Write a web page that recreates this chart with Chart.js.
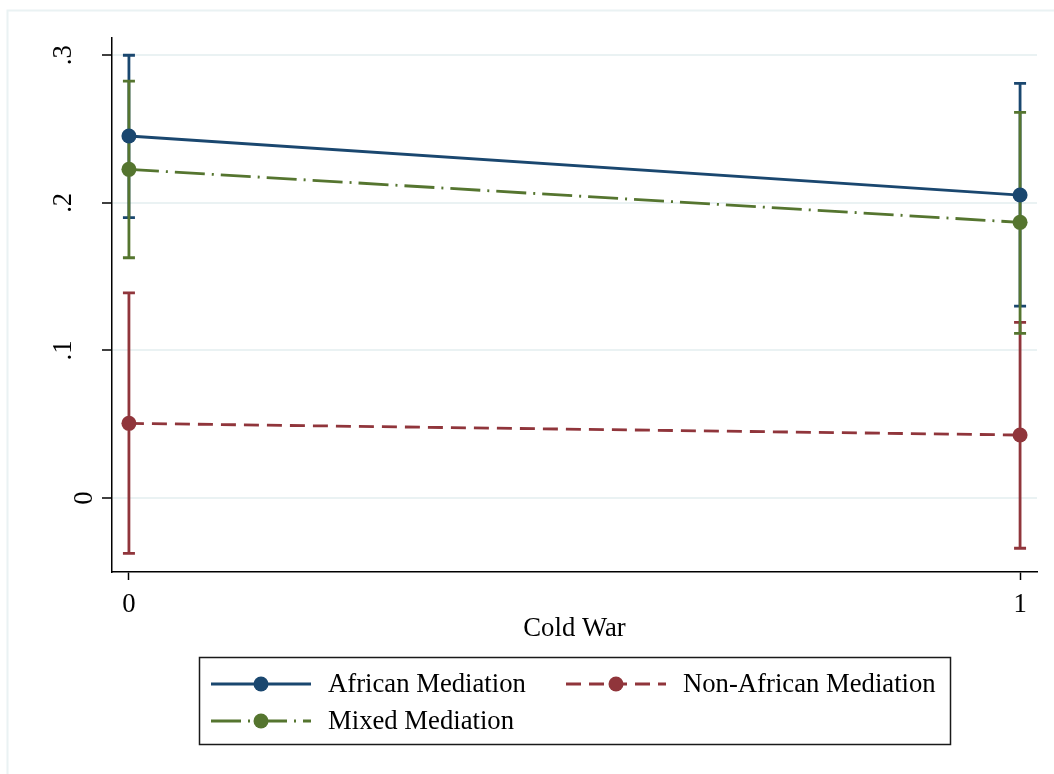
<!DOCTYPE html>
<html>
<head>
<meta charset="utf-8">
<script src="https://cdn.jsdelivr.net/npm/chart.js@4/dist/chart.umd.min.js"></script>
<style>
  html, body { margin: 0; padding: 0; background: #ffffff; }
  #wrap { width: 1054px; height: 774px; position: relative; }
  canvas { display: block; }
</style>
</head>
<body>
<div id="wrap"><canvas id="chart" width="1054" height="774"></canvas></div>
<script>
// Predictive margins by Cold War period and mediator type
const coldWar = [0, 1];
const xTickLabels = ['0', '1'];
const yTickValues = [0, 0.1, 0.2, 0.3];
const yTickLabels = ['0', '.1', '.2', '.3'];
const xTitle = 'Cold War';

const seriesNames = ['African Mediation', 'Non-African Mediation', 'Mixed Mediation'];

const africanMean = [0.2453, 0.2053];
const africanLow  = [0.190, 0.130];
const africanHigh = [0.300, 0.281];

const nonAfricanMean = [0.0506, 0.0427];
const nonAfricanLow  = [-0.0375, -0.034];
const nonAfricanHigh = [0.139, 0.119];

const mixedMean = [0.2227, 0.1868];
const mixedLow  = [0.1628, 0.1116];
const mixedHigh = [0.2825, 0.2613];

const NAVY = '#1a476f';
const MAROON = '#90353b';
const GREEN = '#55752f';
const GRID = '#eaf2f3';
const FONT = '"Liberation Serif", "Times New Roman", serif';
const FONT_SIZE = 26.7;
const LINE_W = 2.8;

const series = [
  { name: seriesNames[0], mean: africanMean, low: africanLow, high: africanHigh, color: NAVY, dash: [] },
  { name: seriesNames[1], mean: nonAfricanMean, low: nonAfricanLow, high: nonAfricanHigh, color: MAROON, dash: [15, 8] },
  { name: seriesNames[2], mean: mixedMean, low: mixedLow, high: mixedHigh, color: GREEN, dash: [30, 7, 2, 7] }
];

const toPoints = (vals) => coldWar.map((x, i) => ({ x: x, y: vals[i] }));

// Confidence intervals with caps, drawn under the lines
const ciPlugin = {
  id: 'ciBars',
  beforeDatasetsDraw(chart) {
    const { ctx, scales } = chart;
    const xs = scales.x, ys = scales.y;
    ctx.save();
    ctx.lineWidth = LINE_W;
    ctx.lineCap = 'butt';
    series.forEach(s => {
      ctx.strokeStyle = s.color;
      coldWar.forEach((xv, i) => {
        const px = xs.getPixelForValue(xv);
        const pLo = ys.getPixelForValue(s.low[i]);
        const pHi = ys.getPixelForValue(s.high[i]);
        ctx.beginPath();
        ctx.moveTo(px, pLo); ctx.lineTo(px, pHi);
        ctx.moveTo(px - 6, pLo); ctx.lineTo(px + 6, pLo);
        ctx.moveTo(px - 6, pHi); ctx.lineTo(px + 6, pHi);
        ctx.stroke();
      });
    });
    ctx.restore();
  }
};

// Frame, rotated y labels, axis title and the boxed legend
const decorPlugin = {
  id: 'decor',
  beforeDraw(chart) {
    const ctx = chart.ctx;
    ctx.save();
    ctx.fillStyle = '#ffffff';
    ctx.fillRect(0, 0, chart.width, chart.height);
    ctx.strokeStyle = GRID;
    ctx.lineWidth = 2;
    ctx.beginPath();
    ctx.moveTo(7.5, chart.height); ctx.lineTo(7.5, 10.5); ctx.lineTo(chart.width, 10.5);
    ctx.stroke();
    ctx.restore();
  },
  afterDraw(chart) {
    const { ctx, scales, chartArea } = chart;
    ctx.save();
    ctx.fillStyle = '#000000';
    ctx.font = FONT_SIZE + 'px ' + FONT;

    // y tick labels, reading upward
    yTickValues.forEach((v, i) => {
      const py = scales.y.getPixelForValue(v);
      const label = yTickLabels[i];
      const bx = label.startsWith('.') ? 70.5 : 92;
      ctx.save();
      ctx.translate(bx, py);
      ctx.rotate(-Math.PI / 2);
      ctx.textAlign = 'center';
      ctx.textBaseline = 'alphabetic';
      ctx.fillText(label, 0, 0);
      ctx.restore();
    });

    // x axis title
    ctx.textAlign = 'center';
    ctx.textBaseline = 'middle';
    ctx.fillText(xTitle, (chartArea.left + chartArea.right) / 2, 629);

    // legend box
    const box = { l: 199.5, t: 657.5, r: 950.5, b: 744.5 };
    ctx.strokeStyle = '#1a1a1a';
    ctx.lineWidth = 1.5;
    ctx.strokeRect(box.l, box.t, box.r - box.l, box.b - box.t);

    const slots = [
      { x: 211, y: 684 },
      { x: 566, y: 684 },
      { x: 211, y: 721 }
    ];
    series.forEach((s, i) => {
      const slot = slots[i];
      ctx.save();
      ctx.strokeStyle = s.color;
      ctx.lineWidth = LINE_W;
      ctx.setLineDash(s.dash);
      ctx.beginPath();
      ctx.moveTo(slot.x, slot.y);
      ctx.lineTo(slot.x + 100, slot.y);
      ctx.stroke();
      ctx.setLineDash([]);
      ctx.fillStyle = s.color;
      ctx.beginPath();
      ctx.arc(slot.x + 50, slot.y, 7.5, 0, Math.PI * 2);
      ctx.fill();
      ctx.restore();
      ctx.textAlign = 'left';
      ctx.textBaseline = 'middle';
      ctx.fillStyle = '#000000';
      ctx.fillText(s.name, slot.x + 117, slot.y + 1);
    });
    ctx.restore();
  }
};

new Chart(document.getElementById('chart'), {
  type: 'line',
  data: {
    datasets: series.map((s, i) => ({
      label: s.name,
      data: toPoints(s.mean),
      borderColor: s.color,
      backgroundColor: s.color,
      pointBackgroundColor: s.color,
      pointBorderColor: s.color,
      borderWidth: LINE_W,
      borderDash: s.dash,
      pointRadius: 7.5,
      pointBorderWidth: 0,
      fill: false,
      tension: 0,
      order: series.length - i
    }))
  },
  options: {
    responsive: false,
    animation: false,
    devicePixelRatio: 1,
    events: [],
    layout: { padding: { left: 0, top: 38, right: 17, bottom: 0 } },
    plugins: { legend: { display: false }, tooltip: { enabled: false }, title: { display: false } },
    scales: {
      x: {
        type: 'linear',
        min: -0.019,
        max: 1.019,
        afterBuildTicks: (axis) => { axis.ticks = coldWar.map(v => ({ value: v })); },
        afterFit: (scale) => { scale.height = 202; },
        ticks: {
          callback: (v, i) => xTickLabels[i],
          color: '#000000',
          font: { family: FONT, size: FONT_SIZE },
          padding: 9,
          maxRotation: 0,
          autoSkip: false
        },
        grid: { drawOnChartArea: false, drawTicks: true, tickLength: 8, tickColor: '#000000', tickWidth: 1.5 },
        border: { display: true, color: '#000000', width: 1.5 }
      },
      y: {
        type: 'linear',
        min: -0.0501,
        max: 0.3117,
        afterBuildTicks: (axis) => { axis.ticks = yTickValues.map(v => ({ value: v })); },
        afterFit: (scale) => { scale.width = 112; },
        ticks: { display: false },
        grid: { color: GRID, lineWidth: 2, drawTicks: true, tickLength: 10, tickColor: '#000000', tickWidth: 1.5 },
        border: { display: true, color: '#000000', width: 1.5 }
      }
    }
  },
  plugins: [decorPlugin, ciPlugin]
});
</script>
</body>
</html>
